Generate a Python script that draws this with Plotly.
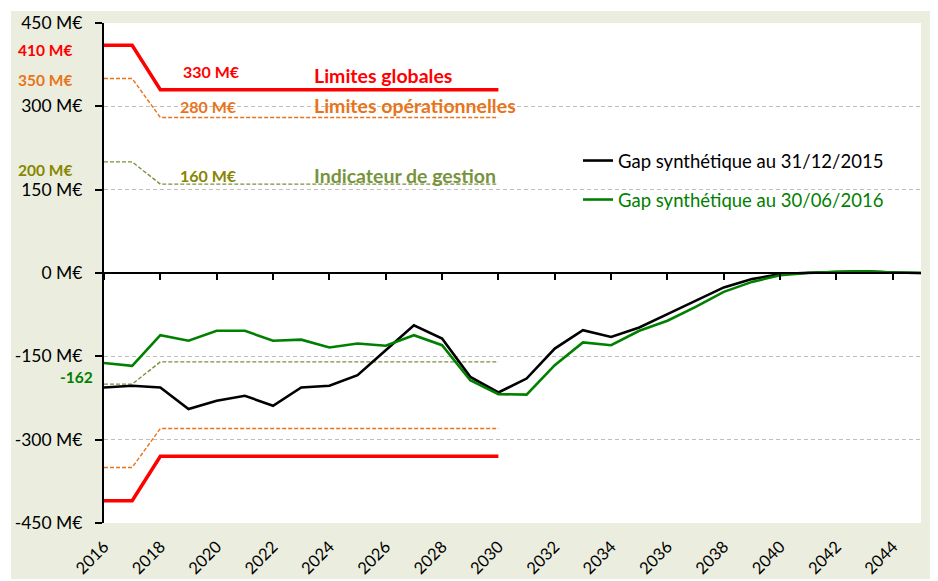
import plotly.graph_objects as go

years = [2016, 2017, 2018, 2019, 2020, 2021, 2022, 2023, 2024, 2025, 2026, 2027, 2028, 2029, 2030,
         2031, 2032, 2033, 2034, 2035, 2036, 2037, 2038, 2039, 2040, 2041, 2042, 2043, 2044, 2045]
gap_2015 = [-206, -203, -206, -245, -230, -221, -239, -206, -203, -184, -139, -94, -118, -187, -215,
            -190, -136, -103, -115, -98, -74, -50, -26, -11, -2, 0.5, 2, 3, 1, 0]
gap_2016 = [-162, -167, -112, -122, -104, -104, -122, -120, -134, -127, -131, -112, -130, -193, -218,
            -219, -166, -125, -130, -104, -86, -61, -34, -16, -4, 0, 2, 3, 1, 0]

limit_years = [2016, 2017, 2018, 2019, 2020, 2021, 2022, 2023, 2024, 2025, 2026, 2027, 2028, 2029, 2030]
lim_glob_pos = [410, 410, 330, 330, 330, 330, 330, 330, 330, 330, 330, 330, 330, 330, 330]
lim_glob_neg = [-410, -410, -330, -330, -330, -330, -330, -330, -330, -330, -330, -330, -330, -330, -330]
lim_op_pos = [350, 350, 280, 280, 280, 280, 280, 280, 280, 280, 280, 280, 280, 280, 280]
lim_op_neg = [-350, -350, -280, -280, -280, -280, -280, -280, -280, -280, -280, -280, -280, -280, -280]
ind_pos = [200, 200, 160, 160, 160, 160, 160, 160, 160, 160, 160, 160, 160, 160, 160]
ind_neg = [-200, -200, -160, -160, -160, -160, -160, -160, -160, -160, -160, -160, -160, -160, -160]

x_tickvals = [2016, 2018, 2020, 2022, 2024, 2026, 2028, 2030, 2032, 2034, 2036, 2038, 2040, 2042, 2044]
x_ticktext = ["2016", "2018", "2020", "2022", "2024", "2026", "2028", "2030", "2032", "2034",
              "2036", "2038", "2040", "2042", "2044"]
y_tickvals = [-450, -300, -150, 0, 150, 300, 450]
y_ticktext = ["-450 M€", "-300 M€", "-150 M€", "0 M€", "150 M€", "300 M€", "450 M€"]

RED = "#FF0000"
ORANGE = "#E8741A"
OLIVE = "#77933C"
OLIVE_TXT = "#868600"
GREEN = "#008000"
BEIGE = "#EBEEDF"
FONT = "Lato"

fig = go.Figure()

for yv in (lim_glob_pos, lim_glob_neg):
    fig.add_trace(go.Scatter(x=limit_years, y=yv, mode="lines", showlegend=False,
                             line=dict(color=RED, width=3.5)))
for yv in (lim_op_pos, lim_op_neg):
    fig.add_trace(go.Scatter(x=limit_years, y=yv, mode="lines", showlegend=False,
                             line=dict(color=ORANGE, width=1.4, dash="4px,2px")))
for yv in (ind_pos, ind_neg):
    fig.add_trace(go.Scatter(x=limit_years, y=yv, mode="lines", showlegend=False,
                             line=dict(color=OLIVE, width=1.4, dash="4px,2px")))

fig.add_trace(go.Scatter(x=years, y=gap_2015, mode="lines", name="Gap synthétique au 31/12/2015",
                         line=dict(color="black", width=2.6), legend="legend"))
fig.add_trace(go.Scatter(x=years, y=gap_2016, mode="lines", name="Gap synthétique au 30/06/2016",
                         line=dict(color=GREEN, width=2.6), legend="legend2"))

# invisible trace to host the axis drawn along y = 0
fig.add_trace(go.Scatter(x=[years[0], years[-1]], y=[0, 0], xaxis="x2", mode="lines",
                         line=dict(color="rgba(0,0,0,0)"), showlegend=False, hoverinfo="skip"))

# the page body has an 8px margin: work in screen pixels and shift
OFF = 8
SW, SH = 938, 581
W, H = SW - OFF, SH - OFF
PL, PR, PT, PB = 104, 921, 23, 523          # plot area in screen pixels
L, R, T, B = PL - OFF, W - (PR - OFF), PT - OFF, H - (PB - OFF)
pw, ph = PR - PL, PB - PT


def px_x(p):
    return (p - PL) / pw


def px_y(p):
    return (PB - p) / ph


fig.add_shape(type="rect", xref="paper", yref="paper", x0=px_x(11), x1=px_x(940),
              y0=px_y(579), y1=px_y(11), fillcolor=BEIGE, line=dict(width=0), layer="below")
fig.add_shape(type="rect", xref="paper", yref="paper", x0=0, x1=1, y0=0, y1=1,
              fillcolor="white", line=dict(width=0), layer="below")

ann = []
bold = dict(family=FONT, size=15.5)
mid = dict(family=FONT, size=16)
ann.append(dict(xref="paper", yref="y", x=px_x(74), y=401, text="<b>410 M€</b>", xanchor="right",
                font=dict(bold, color=RED), showarrow=False))
ann.append(dict(xref="paper", yref="y", x=px_x(74), y=347, text="<b>350 M€</b>", xanchor="right",
                font=dict(bold, color=ORANGE), showarrow=False))
ann.append(dict(xref="paper", yref="y", x=px_x(74), y=185, text="<b>200 M€</b>", xanchor="right",
                font=dict(bold, color=OLIVE_TXT), showarrow=False))
ann.append(dict(xref="paper", yref="y", x=px_x(95), y=-187, text="<b>-162</b>", xanchor="right",
                font=dict(bold, color=GREEN), showarrow=False))
ann.append(dict(xref="x", yref="y", x=2019.8, y=362, text="<b>330 M€</b>", xanchor="center",
                font=dict(mid, color=RED), showarrow=False))
ann.append(dict(xref="x", yref="y", x=2019.7, y=299, text="<b>280 M€</b>", xanchor="center",
                font=dict(mid, color=ORANGE), showarrow=False))
ann.append(dict(xref="x", yref="y", x=2019.7, y=176, text="<b>160 M€</b>", xanchor="center",
                font=dict(mid, color=OLIVE_TXT), showarrow=False))
big = dict(family=FONT, size=19.5)
ann.append(dict(xref="x", yref="y", x=2023.38, y=355, text="<b>Limites globales</b>", xanchor="left",
                font=dict(big, color=RED), showarrow=False))
ann.append(dict(xref="x", yref="y", x=2023.38, y=301, text="<b>Limites opérationnelles</b>", xanchor="left",
                font=dict(big, color=ORANGE), showarrow=False))
ann.append(dict(xref="x", yref="y", x=2023.38, y=176, text="<b>Indicateur de gestion</b>", xanchor="left",
                font=dict(big, color=OLIVE), showarrow=False))

fig.update_layout(
    width=W, height=H,
    margin=dict(l=L, r=R, t=T, b=B, pad=0, autoexpand=False),
    paper_bgcolor="white",
    plot_bgcolor="rgba(0,0,0,0)",
    font=dict(family=FONT, size=17, color="black"),
    annotations=ann,
    xaxis=dict(range=[2016, 2045], tickvals=x_tickvals, ticktext=x_ticktext, tickangle=-45,
               showgrid=False, zeroline=False, showline=False, ticks="", automargin=False,
               ticklabelstandoff=10,
               tickfont=dict(family=FONT, size=16.5, color="black")),
    xaxis2=dict(range=[2016, 2045], overlaying="x", anchor="free", position=0.5, side="bottom",
                tickvals=x_tickvals, showticklabels=False, ticks="outside", ticklen=6,
                tickcolor="black", tickwidth=1.5, showline=True, linecolor="black", linewidth=2,
                showgrid=False, zeroline=False, automargin=False),
    yaxis=dict(range=[-450, 450], tickvals=y_tickvals, ticktext=y_ticktext, automargin=False,
               showgrid=True, gridcolor="#BFBFBF", griddash="4px,3px", gridwidth=1,
               zeroline=False, showline=True, linecolor="black", linewidth=2,
               ticks="outside", ticklen=7, tickcolor="black", tickwidth=1.5,
               ticklabelstandoff=9,
               tickfont=dict(family=FONT, size=17.5, color="black")),
    legend=dict(x=px_x(578), y=px_y(142), xanchor="left", yanchor="top", bgcolor="rgba(0,0,0,0)",
                font=dict(family=FONT, size=18.5, color="black")),
    legend2=dict(x=px_x(578), y=px_y(181), xanchor="left", yanchor="top", bgcolor="rgba(0,0,0,0)",
                 font=dict(family=FONT, size=18.5, color=GREEN)),
)

fig.write_html("out.html")
